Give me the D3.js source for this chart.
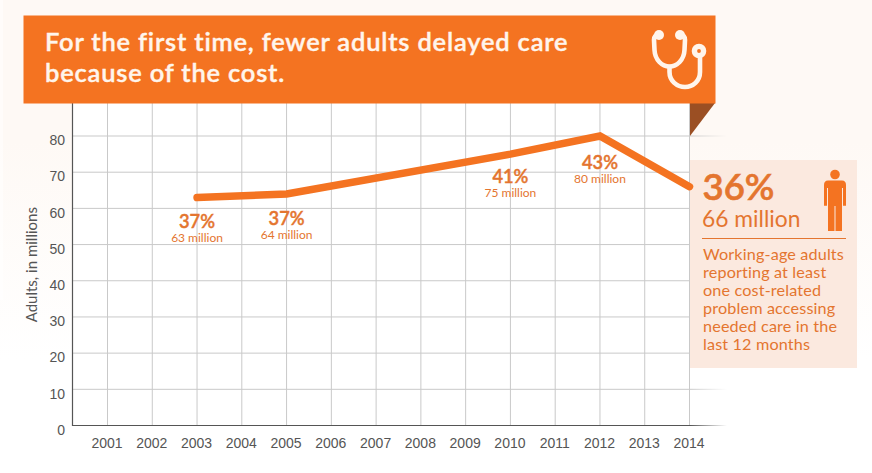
<!DOCTYPE html>
<html><head><meta charset="utf-8">
<script src="https://cdn.jsdelivr.net/npm/d3@7/dist/d3.min.js"></script>
<style>html,body{margin:0;padding:0;background:#fff;overflow:hidden}svg{display:block}</style>
</head><body><svg id="c" width="872" height="473"></svg>
<script>
const years=[2001,2002,2003,2004,2005,2006,2007,2008,2009,2010,2011,2012,2013,2014];
const yTicks=[0,10,20,30,40,50,60,70,80];
const lineYears=[2003,2005,2010,2012,2014];
const lineValues=[63,64,75,80,66];
const pctLabels=["37%","37%","41%","43%"];
const millionLabels=["63 million","64 million","75 million","80 million"];
const labelDy=[30.6,31.2,29.3,33.3];
const titleLines=["For the first time, fewer adults delayed care","because of the cost."];
const calloutLines=["Working-age adults","reporting at least","one cost-related","problem accessing","needed care in the","last 12 months"];
const yLabel="Adults, in millions";

const ORANGE="#f47321",TEXT="#e4752f",AXIS="#555",GRID="#c9c9c9",CREAM="#fff5ec";
const x=d3.scalePoint().domain(years).range([107.5,689.5]);
const y=d3.scaleLinear().domain([0,80]).range([425.5,136]);
const svg=d3.select("#c");
const defs=svg.append("defs");
const fade=defs.append("linearGradient").attr("id","fade");
fade.append("stop").attr("offset",0).attr("stop-color",GRID);
fade.append("stop").attr("offset",1).attr("stop-color",GRID).attr("stop-opacity",0);
const fadeA=defs.append("linearGradient").attr("id","fadeA");
fadeA.append("stop").attr("offset",0).attr("stop-color",AXIS);
fadeA.append("stop").attr("offset",1).attr("stop-color",AXIS).attr("stop-opacity",0);
const bg=defs.append("linearGradient").attr("id","bg").attr("x1",0).attr("y1",0).attr("x2",0).attr("y2",1);
bg.append("stop").attr("offset",0.3).attr("stop-color","#fef9f5");
bg.append("stop").attr("offset",0.76).attr("stop-color","#ffffff");

svg.append("rect").attr("width",872).attr("height",473).attr("fill","url(#bg)");
svg.append("rect").attr("x",0).attr("y",0).attr("width",3).attr("height",300).attr("fill","#fff").attr("opacity",.5);
svg.append("rect").attr("x",72).attr("y",103).attr("width",618).attr("height",322.5).attr("fill","#fff");

// grid
svg.append("g").selectAll("line").data(years).join("line")
 .attr("x1",d=>x(d)).attr("x2",d=>x(d)).attr("y1",103).attr("y2",y(0)).attr("stroke",GRID).attr("stroke-width",1);
svg.append("g").selectAll("line").data(yTicks.filter(d=>d>0)).join("line")
 .attr("x1",72).attr("x2",690).attr("y1",d=>y(d)).attr("y2",d=>y(d)).attr("stroke",GRID).attr("stroke-width",1);
svg.append("g").selectAll("rect").data(yTicks.filter(d=>d>0)).join("rect")
 .attr("x",690).attr("width",37).attr("y",d=>y(d)-.5).attr("height",1).attr("fill","url(#fade)");
svg.append("rect").attr("x",690).attr("width",37).attr("y",y(0)-.5).attr("height",1).attr("fill","url(#fadeA)");
svg.append("line").attr("x1",72.5).attr("x2",72.5).attr("y1",103).attr("y2",y(0)+.5).attr("stroke",AXIS).attr("stroke-width",1.2);
svg.append("line").attr("x1",72).attr("x2",690).attr("y1",y(0)).attr("y2",y(0)).attr("stroke",AXIS).attr("stroke-width",1.2);

// axis labels
const axisFont="'Liberation Sans',Arial,sans-serif";
svg.append("g").selectAll("text").data(years).join("text")
 .attr("x",d=>x(d)-.5).attr("y",448).attr("text-anchor","middle").attr("font-family",axisFont).attr("font-size",14).attr("fill","#555").text(d=>d);
svg.append("g").selectAll("text").data(yTicks).join("text")
 .attr("x",65).attr("y",d=>y(d)+9.3).attr("text-anchor","end").attr("font-family",axisFont).attr("font-size",14).attr("fill","#555").text(d=>d);
svg.append("text").attr("transform","translate(36.5,264.7) rotate(-90)").attr("text-anchor","middle")
 .attr("font-family","Lato,sans-serif").attr("font-size",15).attr("fill","#555").text(yLabel);

// banner
svg.append("polygon").attr("points","690,103 715,103 690,136").attr("fill","#9b4f23");
svg.append("rect").attr("x",23.5).attr("y",15.5).attr("width",692).attr("height",88).attr("fill",ORANGE);
svg.append("g").selectAll("text").data(titleLines).join("text")
 .attr("x",45).attr("y",(d,i)=>51+i*30.7).attr("font-family","Lato,sans-serif").attr("font-weight",600)
 .attr("font-size",25.5).attr("letter-spacing",.8).attr("fill",CREAM).attr("stroke",CREAM).attr("stroke-width",.4).text(d=>d);

// stethoscope
const st=svg.append("g").attr("fill","none").attr("stroke",CREAM).attr("stroke-width",4.6).attr("stroke-linecap","round");
st.append("path").attr("d","M659,35 Q654,35 654,40 L654.5,50 C655,60 662,66.5 669.5,66.5 C677,66.5 684,60 684.5,50 L685,40 Q685,35 680,35");
st.append("path").attr("d","M669.5,67 L669.5,72 C669.5,81 677,87 685,87 C693,87 700,81 700,72 L700,56");
svg.append("circle").attr("cx",659).attr("cy",35).attr("r",5).attr("fill",CREAM);
svg.append("circle").attr("cx",680).attr("cy",35).attr("r",5).attr("fill",CREAM);
svg.append("circle").attr("cx",699).attr("cy",51).attr("r",4.6).attr("fill",ORANGE).attr("stroke",CREAM).attr("stroke-width",5.4);

// callout
svg.append("rect").attr("x",690).attr("y",160).attr("width",167).attr("height",208).attr("fill","#fbe9df");
svg.append("text").attr("x",702.5).attr("y",199.5).attr("font-family","Lato,sans-serif").attr("font-weight",600).attr("font-size",36.5).attr("fill",TEXT).attr("stroke",TEXT).attr("stroke-width",.6).text(lineValues[4]-30+"%");
svg.append("text").attr("x",702).attr("y",226.5).attr("font-family","Lato,sans-serif").attr("font-size",22.8).attr("fill",TEXT).text(lineValues[4]+" million");
svg.append("line").attr("x1",702).attr("x2",846).attr("y1",238.5).attr("y2",238.5).attr("stroke",TEXT).attr("stroke-width",1);
svg.append("g").selectAll("text").data(calloutLines).join("text")
 .attr("x",703).attr("y",(d,i)=>260+i*18).attr("font-family","Lato,sans-serif").attr("font-size",16.2).attr("letter-spacing",.15).attr("fill",TEXT).text(d=>d);

// person
const p=svg.append("g").attr("fill",ORANGE);
p.append("circle").attr("cx",835).attr("cy",174.5).attr("r",4.8);
p.append("path").attr("d","M828,180.5 H842 Q846,180.5 846,185 V205.7 H843 V188 H842 V231 H835.5 V206 H834.5 V231 H828 V188 H827 V205.7 H824 V185 Q824,180.5 828,180.5 Z");

// line
const line=d3.line().x(d=>x(d.year)).y(d=>y(d.value));
const pts=lineYears.map((year,i)=>({year,value:lineValues[i]}));
svg.append("path").attr("d",line(pts)).attr("fill","none").attr("stroke",ORANGE).attr("stroke-width",7.5).attr("stroke-linecap","round").attr("stroke-linejoin","miter");

const lab=svg.append("g").attr("text-anchor","middle").attr("font-family","Lato,sans-serif").attr("fill",TEXT);
pctLabels.forEach((t,i)=>{
 const px=x(lineYears[i]),py=y(lineValues[i])+labelDy[i];
 lab.append("text").attr("x",px).attr("y",py).attr("font-weight",600).attr("font-size",18.3).attr("stroke",TEXT).attr("stroke-width",.4).text(t);
 lab.append("text").attr("x",px).attr("y",py+13.9).attr("font-size",12).text(millionLabels[i]);
});
</script></body></html>
